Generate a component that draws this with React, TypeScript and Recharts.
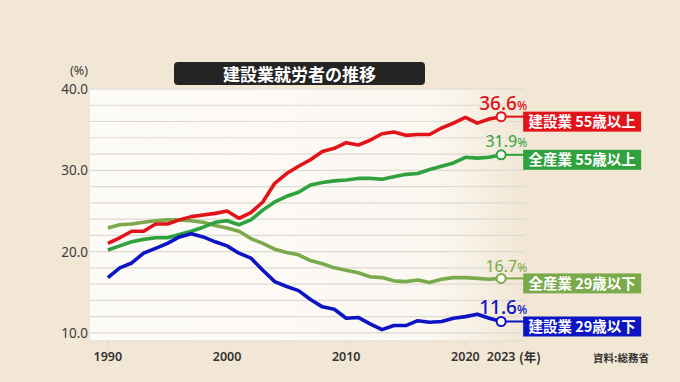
import React from "react";
import { LineChart, Line, XAxis, YAxis, CartesianGrid } from "recharts";

const years = [
  1990, 1991, 1992, 1993, 1994, 1995, 1996, 1997, 1998, 1999,
  2000, 2001, 2002, 2003, 2004, 2005, 2006, 2007, 2008, 2009,
  2010, 2011, 2012, 2013, 2014, 2015, 2016, 2017, 2018, 2019,
  2020, 2021, 2022, 2023,
];
// 建設業 55歳以上
const constr55 = [
  21.0, 21.7, 22.5, 22.5, 23.4, 23.4, 23.9, 24.3, 24.5, 24.7,
  25.0, 24.1, 24.8, 26.1, 28.4, 29.6, 30.5, 31.3, 32.3, 32.7,
  33.4, 33.1, 33.7, 34.5, 34.7, 34.3, 34.4, 34.4, 35.2, 35.8,
  36.5, 35.8, 36.3, 36.6,
];
// 全産業 55歳以上
const all55 = [
  20.2, 20.7, 21.2, 21.5, 21.7, 21.7, 22.1, 22.5, 23.0, 23.6,
  23.8, 23.3, 23.9, 25.1, 26.1, 26.8, 27.3, 28.2, 28.5, 28.7,
  28.8, 29.0, 29.0, 28.9, 29.2, 29.5, 29.6, 30.1, 30.5, 30.9,
  31.6, 31.5, 31.6, 31.9,
];
// 全産業 29歳以下
const all29 = [
  22.9, 23.3, 23.4, 23.6, 23.8, 23.9, 23.9, 23.8, 23.6, 23.2,
  22.9, 22.5, 21.6, 21.0, 20.3, 19.9, 19.6, 18.9, 18.5, 18.0,
  17.7, 17.4, 16.9, 16.8, 16.4, 16.3, 16.5, 16.2, 16.6, 16.8,
  16.8, 16.7, 16.6, 16.7,
];
// 建設業 29歳以下
const constr29 = [
  16.8, 18.0, 18.6, 19.8, 20.4, 21.0, 21.8, 22.2, 21.8, 21.2,
  20.7, 19.8, 19.2, 17.7, 16.3, 15.7, 15.2, 14.1, 13.2, 12.9,
  11.8, 11.9, 11.1, 10.4, 10.9, 10.9, 11.5, 11.3, 11.4, 11.8,
  12.0, 12.3, 11.8, 11.4,
];

const xTicks = [1990, 2000, 2010, 2020, 2023];
const yGridTicks = [10, 12, 14, 16, 18, 20, 22, 24, 26, 28, 30, 32, 34, 36, 38, 40];
const yLabelTicks = [10, 20, 30, 40];

const seriesNames = ["全産業 29歳以下", "全産業 55歳以上", "建設業 29歳以下", "建設業 55歳以上"];
const seriesKeys = ["a29", "a55", "c29", "c55"];
const endLabels = ["16.7", "31.9", "11.6", "36.6"];

const data = years.map((y, i) => ({
  year: y,
  c55: constr55[i],
  a55: all55[i],
  a29: all29[i],
  c29: constr29[i],
}));

const styles = [
  { color: "#7aaa4c", box: "#7aaa4c", valSize: 16, valWeight: 400, valDy: -6 },
  { color: "#2fa23d", box: "#2fa23d", valSize: 16, valWeight: 400, valDy: -8 },
  { color: "#0c14c4", box: "#0c14c4", valSize: 19, valWeight: 500, valDy: -7 },
  { color: "#e3131a", box: "#e3131a", valSize: 19, valWeight: 500, valDy: -7 },
];

const FONT = "'Noto Sans', 'Noto Sans CJK JP', sans-serif";
const JFONT = "'Noto Sans CJK JP', 'Noto Sans', sans-serif";

const makeDot = (si: number) => (props: any) => {
  const { cx, cy, index } = props;
  const st = styles[si];
  if (index !== data.length - 1) return <g key={`d-${si}-${index}`} />;
  return (
    <g key={`end-${si}`}>
      <line x1={cx + 4} y1={cy} x2={cx + 23} y2={cy} stroke={st.color} strokeWidth={2} />
      <circle cx={cx} cy={cy} r={4.5} fill="#fffdf8" stroke={st.color} strokeWidth={2} />
      <rect x={cx + 22} y={cy - 5} width={118} height={20} fill={st.box} />
      <text
        x={cx + 81}
        y={cy + 10.5}
        textAnchor="middle"
        fill="#ffffff"
        fontSize={14.5}
        fontWeight={700}
        fontFamily={JFONT}
      >
        {seriesNames[si]}
      </text>
      <text
        x={cx + 26}
        y={cy + st.valDy}
        textAnchor="end"
        fill={st.color}
        fontFamily={FONT}
        fontWeight={st.valWeight}
      >
        <tspan fontSize={st.valSize}>{endLabels[si]}</tspan>
        <tspan fontSize={12}>%</tspan>
      </text>
    </g>
  );
};

const YTick = (props: any) => {
  const { x, y, payload } = props;
  if (!yLabelTicks.includes(payload.value)) return <g />;
  return (
    <text x={x} y={y} dy={5} textAnchor="end" fontSize={13.5} fill="#3c3c3c" fontFamily={FONT}>
      {payload.value.toFixed(1)}
    </text>
  );
};

const XTick = (props: any) => {
  const { x, y, payload } = props;
  return (
    <text x={x} y={y} dy="0.71em" textAnchor="middle" fontSize={12.5} fontWeight={600} fill="#333" fontFamily={FONT}>
      {payload.value}
    </text>
  );
};

export default function App() {
  return (
    <div
      style={{
        position: "absolute",
        left: 0,
        top: 0,
        width: 680,
        height: 382,
        background: "#f2e7d5",
        overflow: "hidden",
        fontFamily: FONT,
      }}
    >
      <LineChart
        width={680}
        height={382}
        data={data}
        margin={{ top: 89, right: 155, bottom: 0, left: 0 }}
      >
        <defs>
          <linearGradient id="plotBg" x1="0" y1="0" x2="1" y2="0">
            <stop offset="0" stopColor="#fdfbf7" />
            <stop offset="0.78" stopColor="#fbf8f2" />
            <stop offset="1" stopColor="#f2e7d5" />
          </linearGradient>
        </defs>
        <CartesianGrid vertical={false} stroke="#dedad2" strokeWidth={1.2} fill="url(#plotBg)" />
        <XAxis
          dataKey="year"
          type="number"
          domain={[1988.5, 2025]}
          ticks={xTicks}
          interval={0}
          axisLine={false}
          tickLine={{ stroke: "#d8d3ca" }}
          tickSize={5}
          tickMargin={6}
          height={41}
          tick={<XTick />}
        />
        <YAxis
          type="number"
          domain={[9, 40]}
          ticks={yGridTicks}
          width={90}
          axisLine={false}
          tickLine={false}
          tickSize={0}
          tickMargin={2}
          tick={<YTick />}
          interval={0}
        />
        {seriesKeys.map((k, i) => (
          <Line
            key={k}
            type="linear"
            dataKey={k}
            stroke={styles[i].color}
            strokeWidth={3.6}
            strokeLinejoin="round"
            dot={makeDot(i)}
            activeDot={false}
            isAnimationActive={false}
          />
        ))}
      </LineChart>
      <div
        style={{
          position: "absolute",
          left: 174,
          top: 62,
          width: 251,
          height: 23,
          background: "#242424",
          borderRadius: 4,
          color: "#fff",
          fontFamily: JFONT,
          fontWeight: 700,
          fontSize: 17,
          lineHeight: "23px",
          textAlign: "center",
        }}
      >
        建設業就労者の推移
      </div>
      <div
        style={{
          position: "absolute",
          right: 680 - 88,
          top: 63,
          fontSize: 12.5,
          color: "#3c3c3c",
          lineHeight: "16px",
        }}
      >
        (%)
      </div>
      <div
        style={{
          position: "absolute",
          left: 519,
          top: 348,
          fontSize: 12.5,
          fontWeight: 600,
          color: "#333",
          fontFamily: JFONT,
          lineHeight: "18px",
        }}
      >
        (年)
      </div>
      <div
        style={{
          position: "absolute",
          left: 593,
          top: 350,
          fontSize: 10.5,
          fontWeight: 700,
          color: "#333",
          fontFamily: JFONT,
          lineHeight: "16px",
        }}
      >
        資料:総務省
      </div>
    </div>
  );
}
